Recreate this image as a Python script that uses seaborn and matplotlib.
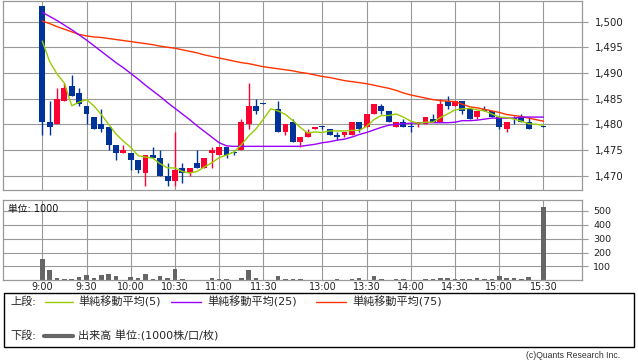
import matplotlib
matplotlib.use("Agg")
import matplotlib.pyplot as plt
import seaborn as sns
import pandas as pd
from matplotlib.lines import Line2D
from matplotlib.patches import Rectangle
from matplotlib.ticker import FuncFormatter

# ---------------- data ----------------
time_labels = ["9:00", "9:30", "10:00", "10:30", "11:00", "11:30",
               "13:00", "13:30", "14:00", "14:30", "15:00", "15:30"]
label_slots = [0, 6, 12, 18, 24, 30, 38, 44, 50, 56, 62, 68]

candle_slot = list(range(0, 31)) + list(range(32, 67)) + [68]
opens = [1503.0, 1480.5, 1480.0, 1484.5, 1487.5, 1486.0, 1483.5, 1481.5, 1480.0, 1479.5,
         1476.0, 1474.5, 1474.5, 1473.0, 1470.5, 1474.0, 1473.5, 1470.0, 1469.0, 1471.5,
         1470.5, 1472.5, 1471.5, 1474.5, 1474.0, 1475.5, 1474.5, 1475.0, 1480.0, 1483.5,
         1484.0,
         1483.0, 1478.5, 1480.5, 1476.5, 1477.5, 1479.0, 1479.5, 1479.0, 1478.0, 1478.0,
         1478.0, 1480.5, 1479.5, 1482.0, 1483.5, 1482.5, 1479.5, 1480.5, 1479.6, 1480.0,
         1480.0, 1481.0, 1480.5, 1484.5, 1483.5, 1484.5, 1483.0, 1481.5, 1483.0, 1482.5,
         1481.5, 1479.0, 1481.1, 1481.5, 1480.5,
         1479.6]
highs = [1503.0, 1484.5, 1487.0, 1488.0, 1489.5, 1487.0, 1483.5, 1481.5, 1483.0, 1479.5,
         1476.0, 1476.0, 1474.5, 1473.0, 1474.0, 1475.5, 1475.0, 1472.5, 1478.5, 1472.5,
         1471.5, 1475.0, 1473.5, 1475.5, 1475.5, 1475.5, 1475.0, 1481.0, 1488.0, 1485.0,
         1484.1,
         1484.5, 1480.0, 1481.0, 1477.5, 1479.0, 1479.5, 1479.6, 1479.0, 1478.5, 1478.5,
         1480.5, 1480.5, 1482.0, 1484.0, 1484.0, 1482.5, 1480.5, 1481.0, 1480.2, 1480.5,
         1481.5, 1482.0, 1485.0, 1485.5, 1484.5, 1484.5, 1483.0, 1482.5, 1483.5, 1482.5,
         1481.5, 1480.5, 1481.6, 1482.0, 1481.5,
         1479.6]
lows = [1478.0, 1478.0, 1480.0, 1484.5, 1485.5, 1483.5, 1480.0, 1479.0, 1478.5, 1475.0,
        1473.0, 1474.5, 1471.0, 1470.5, 1468.0, 1473.5, 1470.0, 1468.0, 1468.0, 1468.5,
        1470.0, 1471.5, 1471.5, 1471.5, 1474.0, 1473.5, 1474.0, 1475.0, 1479.0, 1482.0,
        1484.0,
        1478.5, 1478.0, 1476.5, 1475.5, 1477.5, 1479.0, 1479.0, 1478.0, 1477.0, 1477.5,
        1478.0, 1478.5, 1479.5, 1482.0, 1482.0, 1480.5, 1479.5, 1479.5, 1478.5, 1479.5,
        1480.0, 1480.5, 1480.5, 1483.0, 1483.5, 1482.0, 1481.0, 1481.0, 1482.5, 1481.5,
        1479.0, 1478.5, 1480.0, 1480.5, 1479.0,
        1479.5]
closes = [1480.5, 1479.5, 1485.0, 1487.0, 1485.5, 1484.0, 1482.0, 1479.0, 1479.0, 1476.0,
          1474.5, 1475.0, 1473.0, 1471.0, 1474.0, 1473.5, 1470.0, 1469.0, 1471.0, 1470.5,
          1471.5, 1471.5, 1473.5, 1475.0, 1475.5, 1474.0, 1474.4, 1480.5, 1483.5, 1482.5,
          1484.0,
          1478.5, 1480.0, 1476.5, 1477.5, 1478.5, 1479.5, 1479.4, 1478.0, 1477.5, 1478.5,
          1480.5, 1479.0, 1482.0, 1484.0, 1482.5, 1480.5, 1480.5, 1479.5, 1479.5, 1480.5,
          1481.5, 1480.5, 1484.0, 1483.5, 1484.5, 1482.5, 1481.0, 1482.5, 1482.5, 1481.5,
          1479.5, 1480.5, 1481.0, 1480.5, 1479.0,
          1479.5]

ma_slot = list(range(0, 69))
ma5 = [1496.2, 1492.2, 1489.8, 1488.0, 1483.6, 1484.3, 1484.8, 1483.6, 1481.9, 1480.0,
       1478.1, 1476.7, 1475.5, 1473.9, 1473.6, 1473.4, 1472.3, 1471.5, 1471.5, 1470.8,
       1470.5, 1470.8, 1471.7, 1472.5, 1473.5, 1474.0, 1474.6, 1476.0, 1477.7, 1479.1,
       1481.0, 1483.0, 1482.6, 1481.9, 1480.7, 1479.4, 1478.3, 1478.5, 1478.4, 1478.7,
       1478.7, 1478.7, 1478.8, 1478.8, 1479.6, 1480.9, 1481.7, 1481.7, 1482.0, 1481.4,
       1480.6, 1480.2, 1480.4, 1480.4, 1481.3, 1482.0, 1482.8, 1483.0, 1483.1, 1482.8,
       1482.6, 1482.0, 1481.4, 1481.3, 1481.0, 1480.6, 1480.1, 1480.0, 1479.8]
ma25 = [1501.8, 1501.0, 1500.2, 1499.3, 1498.4, 1497.4, 1496.4, 1495.3, 1494.2, 1493.1,
        1492.0, 1491.0, 1489.9, 1488.8, 1487.6, 1486.5, 1485.4, 1484.2, 1483.1, 1482.0,
        1480.9, 1479.7, 1478.6, 1477.5, 1476.4, 1475.8, 1475.7, 1475.7, 1475.7, 1475.7,
        1475.7, 1475.7, 1475.7, 1475.7, 1475.7, 1475.7, 1475.9, 1476.1, 1476.4, 1476.6,
        1476.9, 1477.1, 1477.5, 1478.0, 1478.4, 1478.9, 1479.4, 1479.8, 1480.0, 1480.1,
        1480.2, 1480.3, 1480.3, 1480.3, 1480.3, 1480.3, 1480.4, 1480.7, 1480.7, 1480.8,
        1481.0, 1481.2, 1481.2, 1481.2, 1481.2, 1481.4, 1481.4, 1481.4, 1481.4]
ma75 = [1500.1, 1499.6, 1499.0, 1498.5, 1498.0, 1497.5, 1497.2, 1497.0, 1496.9, 1496.7,
        1496.5, 1496.3, 1496.1, 1495.9, 1495.7, 1495.5, 1495.2, 1495.0, 1494.8, 1494.5,
        1494.2, 1493.9, 1493.5, 1493.2, 1492.9, 1492.6, 1492.3, 1492.0, 1491.8, 1491.5,
        1491.2, 1491.0, 1490.8, 1490.6, 1490.4, 1490.1, 1489.9, 1489.6, 1489.3, 1489.1,
        1488.8, 1488.5, 1488.3, 1488.1, 1487.9, 1487.6, 1487.3, 1487.0, 1486.6, 1486.1,
        1485.7, 1485.4, 1485.1, 1484.8, 1484.6, 1484.5, 1484.4, 1483.9, 1483.4, 1483.2,
        1482.9, 1482.6, 1482.3, 1481.9, 1481.7, 1481.5, 1481.2, 1480.9, 1480.6]

volume = [153, 74, 17, 10, 10, 24, 38, 17, 38, 46,
          31, 3, 24, 17, 46, 10, 31, 17, 82, 10,
          3, 3, 3, 17, 10, 10, 3, 17, 74, 17,
          3, 0, 31, 10, 10, 10, 3, 3, 3, 3,
          10, 3, 10, 17, 3, 31, 10, 3, 10, 10,
          3, 3, 10, 10, 17, 17, 10, 10, 10, 17,
          10, 10, 31, 17, 17, 10, 24, 0, 525]

price_ticks = [1470, 1475, 1480, 1485, 1490, 1495, 1500]
vol_ticks = [100, 200, 300, 400, 500]

# ---------------- style ----------------
sns.set_theme(style="white")
plt.rcParams['font.family'] = ['DejaVu Sans', 'Noto Sans CJK JP']
GRID = "#999999"
RED = "#ff0033"
BLUE = "#003399"

W, H = 638, 362
fig = plt.figure(figsize=(W / 100, H / 100), dpi=100)
fig.patch.set_facecolor("white")


def fx(x):
    return x / W


def fy(y):
    return 1 - y / H


ax1 = fig.add_axes([fx(3), fy(190.3), fx(582) - fx(3), fy(1) - fy(190.3)])
ax2 = fig.add_axes([fx(3), fy(280.3), fx(582) - fx(3), fy(200) - fy(280.3)])

XMIN, XMAX = -5.33, 73.23

# ---- candles ----
df = pd.DataFrame({"slot": candle_slot, "open": opens, "high": highs,
                   "low": lows, "close": closes})
df["up"] = df["close"] > df["open"]
df["color"] = df["up"].map({True: RED, False: BLUE})
df["bottom"] = df[["open", "close"]].min(axis=1)
df["height"] = (df["close"] - df["open"]).abs().clip(lower=0.18)

ax1.vlines(df["slot"], df["low"], df["high"], colors=df["color"], lw=1.0, zorder=2)
ax1.bar(df["slot"], df["height"], bottom=df["bottom"], width=0.8,
        color=df["color"], linewidth=0, zorder=2)

# ---- moving averages ----
ma_df = pd.DataFrame({"slot": ma_slot, "ma5": ma5, "ma25": ma25, "ma75": ma75})
sns.lineplot(data=ma_df, x="slot", y="ma75", color="#ff3300", lw=1.0, ax=ax1, zorder=3)
sns.lineplot(data=ma_df, x="slot", y="ma25", color="#9900ff", lw=1.0, ax=ax1, zorder=3)
sns.lineplot(data=ma_df, x="slot", y="ma5", color="#99cc00", lw=1.0, ax=ax1, zorder=3)

ax1.set_xlim(XMIN, XMAX)
ax1.set_ylim(1467.14, 1504.0)
ax1.set_xticks(label_slots)
ax1.set_xticklabels([])
ax1.set_yticks(price_ticks)
ax1.yaxis.set_major_formatter(FuncFormatter(lambda v, p: f"{int(v):,}"))
ax1.yaxis.tick_right()
ax1.tick_params(axis="y", which="both", right=True, left=False, length=4, width=0.8,
                color=GRID, labelsize=7.3, pad=5, labelcolor="#222222", direction="out")
ax1.tick_params(axis="x", length=0)
ax1.set_xlabel("")
ax1.set_ylabel("")

# ---- volume ----
vol_df = pd.DataFrame({"slot": ma_slot, "volume": volume})
sns.barplot(data=vol_df, x="slot", y="volume", native_scale=True, color="#666666",
            saturation=1, width=0.62, ax=ax2, zorder=2)
for p in ax2.patches:
    p.set_linewidth(0)
ax2.set_xlim(XMIN, XMAX)
ax2.set_ylim(0, 578)
ax2.set_xticks(label_slots)
ax2.set_xticklabels(time_labels)
ax2.set_yticks(vol_ticks)
ax2.yaxis.tick_right()
ax2.tick_params(axis="y", right=True, left=False, length=4, width=0.8, color=GRID,
                labelsize=6.8, pad=4, labelcolor="#222222", direction="out")
ax2.tick_params(axis="x", length=0, pad=1.5, labelsize=6.9, labelcolor="#222222")
ax2.set_xlabel("")
ax2.set_ylabel("")
ax2.text(5 / 579, 1 - 9 / 80.3, "単位: 1000", transform=ax2.transAxes, fontsize=7,
         va="center", ha="left", color="#111111")

for ax in (ax1, ax2):
    ax.set_axisbelow(True)
    ax.grid(True, color=GRID, lw=0.8)
    for s in ax.spines.values():
        s.set_color(GRID)
        s.set_linewidth(0.9)
    ax.set_facecolor("white")

# ---- legend box ----
fig.patches.append(Rectangle((fx(3.5), fy(347)), fx(634) - fx(3.5), fy(293) - fy(347),
                             transform=fig.transFigure, fill=False, edgecolor="black",
                             lw=1.0))
row1, row2 = 302, 336
fs = 8
fig.text(fx(10), fy(row1), "上段:", fontsize=fs, va="center", ha="left")
entries = [(45, 73, 78, "#99cc00", "単純移動平均(5)"),
           (171, 201, 207, "#9900ff", "単純移動平均(25)"),
           (316, 346, 352, "#ff3300", "単純移動平均(75)")]
for x0, x1, xt, c, t in entries:
    fig.lines.append(Line2D([fx(x0), fx(x1)], [fy(row1), fy(row1)], color=c, lw=1.0,
                            transform=fig.transFigure))
    fig.text(fx(xt), fy(row1), t, fontsize=fs, va="center", ha="left")
fig.text(fx(10), fy(row2), "下段:", fontsize=fs, va="center", ha="left")
fig.lines.append(Line2D([fx(44), fx(73)], [fy(row2), fy(row2)], color="#666666", lw=3.0,
                        transform=fig.transFigure))
fig.text(fx(78), fy(row2), "出来高 単位:(1000株/口/枚)", fontsize=fs, va="center", ha="left")

fig.text(fx(620), fy(356), "(c)Quants Research Inc.", fontsize=6.2, va="center",
         ha="right", family=["Liberation Sans", "DejaVu Sans"], color="#333333")

fig.savefig("out.png", dpi=100, facecolor="white")
